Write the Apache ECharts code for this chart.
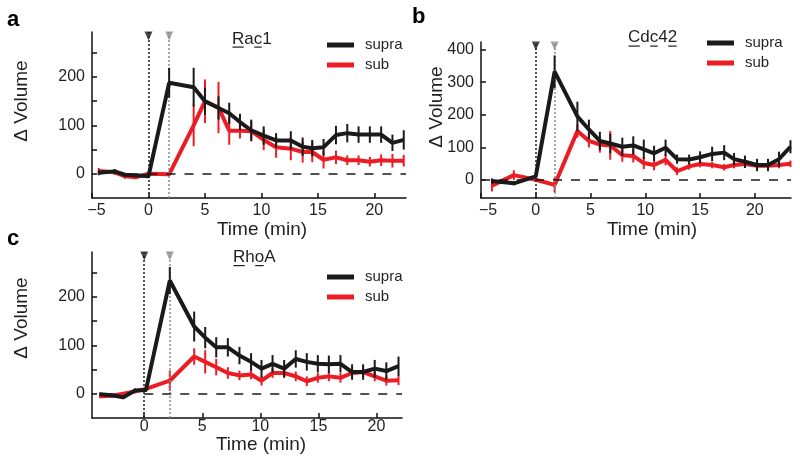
<!DOCTYPE html>
<html><head><meta charset="utf-8">
<script src="https://cdn.jsdelivr.net/npm/echarts@6/dist/echarts.min.js"></script>
<style>html,body{margin:0;padding:0;background:#fff}#c{width:800px;height:465px}</style>
</head><body><div id="c"></div>
<script>
// ---------- Panel a : Rac1 ----------
const timeA     = [-4.4, -3.0, -2.1, -1.1, 0, 1.83, 4.0, 5.0, 6.2, 7.15, 8.1, 9.1, 10.2, 11.3, 12.6, 13.65, 14.5, 15.5, 16.6, 17.6, 18.6, 19.6, 20.6, 21.6, 22.6];
const supraA    = [2, 5, -2, -3, -5, 188, 179, 150, 136, 125, 107, 90, 79, 69, 69, 56, 53, 55, 80, 84, 81, 81, 81, 64, 70];
const supraErrA = [5, 5, 4, 4, 4, 31, 40, 28, 24, 22, 17, 22, 19, 15, 19, 19, 17, 17, 19, 19, 17, 17, 17, 17, 20];
const subA      = [6, 3, -5, -7, 0, -1, 100, 150, 137, 89, 89, 88, 70, 55, 52, 45, 45, 29, 34, 28, 28, 25, 28, 27, 27];
const subErrA   = [6, 5, 5, 4, 3, 3, 43, 45, 53, 29, 16, 21, 21, 22, 24, 22, 21, 18, 14, 10, 10, 10, 12, 14, 12];
// ---------- Panel b : Cdc42 ----------
const timeB     = [-4.0, -2.0, 0, 1.72, 3.8, 4.85, 5.85, 6.8, 7.9, 8.9, 9.86, 10.8, 11.85, 12.9, 14.0, 15.0, 16.1, 17.2, 18.1, 19.1, 20.2, 21.2, 22.2, 23.25];
const supraB    = [-3, -10, 11, 332, 195, 155, 120, 112, 102, 106, 94, 82, 99, 64, 63, 70, 80, 84, 64, 56, 46, 46, 64, 102];
const supraErrB = [8, 6, 6, 50, 45, 30, 28, 30, 28, 28, 30, 23, 25, 14, 15, 18, 22, 23, 19, 19, 19, 19, 23, 20];
const subB      = [-17, 15, 1, -15, 150, 120, 109, 106, 76, 74, 52, 46, 62, 27, 42, 49, 46, 39, 46, 49, 44, 44, 46, 50];
const subErrB   = [18, 15, 5, 23, 20, 20, 25, 44, 20, 20, 18, 16, 17, 12, 10, 10, 10, 10, 10, 10, 10, 10, 10, 10];
// ---------- Panel c : RhoA ----------
const timeC     = [-3.8, -2.8, -1.8, -0.8, 0.15, 2.2, 4.3, 5.25, 6.2, 7.2, 8.2, 9.2, 10.1, 11.05, 12.05, 13.05, 14.0, 14.95, 15.9, 16.9, 17.9, 18.85, 19.85, 20.85, 21.9];
const supraC    = [-1, -3, -7, 7, 8, 234, 139, 116, 96, 96, 79, 66, 52, 62, 52, 72, 66, 62, 61, 62, 45, 45, 52, 47, 57];
const supraErrC = [4, 4, 4, 4, 4, 28, 31, 22, 21, 19, 18, 18, 18, 18, 18, 18, 18, 18, 18, 18, 16, 16, 18, 18, 20];
const subC      = [-5, -4, 0, 5, 10, 27, 77, 66, 55, 43, 38, 40, 27, 43, 43, 36, 26, 33, 36, 33, 43, 45, 36, 27, 28];
const subErrC   = [4, 4, 4, 4, 4, 21, 17, 24, 17, 12, 10, 10, 10, 10, 10, 10, 10, 10, 10, 10, 10, 10, 10, 10, 10];
// ---------- ticks / labels ----------
const xTicksAB  = [-5, 0, 5, 10, 15, 20];
const xTicksC   = [0, 5, 10, 15, 20];
const yTicksAC  = [0, 50, 100, 150, 200, 250];
const yLabelsAC = [0, 100, 200];
const yTicksB   = [0, 100, 200, 300, 400];
const titles    = ['Rac1', 'Cdc42', 'RhoA'];
const underlined = [[0, 2], [0, 2, 4], [0, 2]];
const seriesNames = ['supra', 'sub'];
const panelLetters = ['a', 'b', 'c'];

const FONT = '"Liberation Sans", Arial, Helvetica, sans-serif';
const RED = '#ec1c24', BLACK = '#1a1a1a', GRAY = '#8c8c8c', TXT = '#231f20';

const panels = [
  {t: timeA, sup: supraA, supE: supraErrA, sub: subA, subE: subErrA,
   grid: {left: 92, top: 32, width: 314, height: 166}, x: [-5, 22.8], y: [-50, 293],
   xTicks: xTicksAB, yTicks: yTicksAC, yLabels: yLabelsAC, stim: 1.83, zeroFrom: 0,
   legend: {left: 327, top: 37}, negPad: 9, xMargin: 5},
  {t: timeB, sup: supraB, supE: supraErrB, sub: subB, subE: subErrB,
   grid: {left: 481, top: 42, width: 310, height: 156}, x: [-5, 23.3], y: [-55, 423],
   xTicks: xTicksAB, yTicks: yTicksB, yLabels: yTicksB, stim: 1.72, zeroFrom: -5,
   legend: {left: 707, top: 35}, negPad: 14, xMargin: 5},
  {t: timeC, sup: supraC, supE: supraErrC, sub: subC, subE: subErrC,
   grid: {left: 92, top: 252, width: 310, height: 166}, x: [-4.5, 22.2], y: [-50, 293],
   xTicks: xTicksC, yTicks: yTicksAC, yLabels: yLabelsAC, stim: 2.2, zeroFrom: 0,
   legend: {left: 327, top: 269}, negPad: 9, xMargin: 1}
];

function zip(t, v, e) { return t.map((x, i) => e ? [x, v[i], e[i]] : [x, v[i]]); }
function errRender(color) {
  return function (params, api) {
    const x = api.value(0), y = api.value(1), e = api.value(2);
    const p1 = api.coord([x, y - e]), p2 = api.coord([x, y + e]);
    return {type: 'line', shape: {x1: p1[0], y1: p1[1], x2: p2[0], y2: p2[1]},
            style: {stroke: color, lineWidth: 2}};
  };
}

const grid = [], xAxis = [], yAxis = [], series = [], legend = [];
panels.forEach((p, i) => {
  grid.push(Object.assign({outerBoundsMode: 'none', containLabel: false}, p.grid));
  const axisLine = {show: true, onZero: false, lineStyle: {color: '#111', width: 1.5}};
  xAxis.push({type: 'value', gridIndex: i, min: p.x[0], max: p.x[1], axisLine,
    axisTick: {show: true, inside: true, length: 5, customValues: p.xTicks, lineStyle: {color: '#111', width: 1.5}},
    axisLabel: {customValues: p.xTicks, fontSize: 16, color: TXT, fontFamily: FONT, margin: p.xMargin,
      formatter: v => v < 0 ? '{n|\u2212' + Math.abs(v) + '}' : String(v),
      rich: {n: {fontSize: 16, color: TXT, fontFamily: FONT, padding: [0, 0, 0, p.negPad]}}},
    splitLine: {show: false}});
  yAxis.push({type: 'value', gridIndex: i, min: p.y[0], max: p.y[1], axisLine,
    axisTick: {show: true, inside: true, length: 5, customValues: p.yTicks, lineStyle: {color: '#111', width: 1.5}},
    axisLabel: {customValues: p.yLabels, fontSize: 16, color: TXT, fontFamily: FONT, margin: 7},
    splitLine: {show: false}});
  const ymax = p.y[1];
  series.push({type: 'scatter', name: 'guides', xAxisIndex: i, yAxisIndex: i, z: 1, clip: false,
    symbol: 'triangle', symbolRotate: 180, symbolSize: [8, 9], symbolOffset: [0, 4],
    data: [{value: [0, ymax], itemStyle: {color: BLACK}}, {value: [p.stim, ymax], itemStyle: {color: GRAY}}],
    silent: true, animation: false,
    markLine: {silent: true, symbol: 'none', animation: false, label: {show: false},
      data: [
        {xAxis: 0, lineStyle: {color: BLACK, type: [2, 2], width: 1.5}},
        {xAxis: p.stim, lineStyle: {color: GRAY, type: [2, 2], width: 1.5}},
        [{coord: [p.zeroFrom, 0], lineStyle: {color: BLACK, type: [9, 9], width: 1.5}}, {coord: [p.x[1], 0]}]
      ]}});
  series.push({type: 'line', name: 'sub', xAxisIndex: i, yAxisIndex: i, z: 3, data: zip(p.t, p.sub),
    symbol: 'none', showSymbol: false, animation: false,
    lineStyle: {color: RED, width: 4}, itemStyle: {color: RED}});
  series.push({type: 'custom', name: 'subErr', xAxisIndex: i, yAxisIndex: i, z: 4, data: zip(p.t, p.sub, p.subE),
    encode: {x: 0, y: 1}, renderItem: errRender(RED), animation: false, itemStyle: {color: RED}});
  series.push({type: 'line', name: 'supra', xAxisIndex: i, yAxisIndex: i, z: 5, data: zip(p.t, p.sup),
    symbol: 'none', showSymbol: false, animation: false,
    lineStyle: {color: BLACK, width: 4}, itemStyle: {color: BLACK}});
  series.push({type: 'custom', name: 'supraErr', xAxisIndex: i, yAxisIndex: i, z: 6, data: zip(p.t, p.sup, p.supE),
    encode: {x: 0, y: 1}, renderItem: errRender(BLACK), animation: false, itemStyle: {color: BLACK}});
  legend.push({left: p.legend.left, top: p.legend.top, orient: 'vertical', padding: 0,
    itemWidth: 27, itemHeight: 5, itemGap: 4, icon: 'rect', selectedMode: false,
    data: seriesNames.map(n => ({name: n, icon: 'rect', itemStyle: {color: n === 'supra' ? BLACK : RED}})),
    textStyle: {fontSize: 15, color: TXT, fontFamily: FONT, lineHeight: 16, padding: [0, 0, 0, 6]}});
});

// titles with underlined letters
const cv = document.createElement('canvas').getContext('2d');
const TFONT = '17px "Liberation Sans"';
cv.font = TFONT;
const titlePos = [{x: 232, y: 39, ul: 46.5}, {x: 628, y: 37.5, ul: 45.5}, {x: 233, y: 257.5, ul: 265}];
const graphic = [];
titles.forEach((t, i) => {
  const tp = titlePos[i];
  graphic.push({type: 'text', x: tp.x, y: tp.y, silent: true,
    style: {text: t, font: TFONT, fill: TXT, align: 'left', verticalAlign: 'middle'}});
  underlined[i].forEach(ci => {
    const x0 = cv.measureText(t.slice(0, ci)).width, x1 = cv.measureText(t.slice(0, ci + 1)).width;
    graphic.push({type: 'rect', silent: true, shape: {x: tp.x + x0 + 0.5, y: tp.ul, width: x1 - x0 - 1, height: 1.2},
      style: {fill: TXT}});
  });
});
// panel letters
[[7, 20], [412, 17], [7, 239]].forEach((pos, i) => {
  graphic.push({type: 'text', x: pos[0], y: pos[1], silent: true,
    style: {text: panelLetters[i], font: 'bold 22px ' + FONT, fill: '#000', align: 'left', verticalAlign: 'middle'}});
});
// axis names
[[22, 101], [437, 107], [22, 318]].forEach(pos => {
  graphic.push({type: 'text', x: pos[0], y: pos[1], rotation: Math.PI / 2, silent: true,
    style: {text: '\u0394 Volume', font: '19px ' + FONT, fill: TXT, align: 'center', verticalAlign: 'middle'}});
});
[[262, 230], [652, 230], [261, 445]].forEach(pos => {
  graphic.push({type: 'text', x: pos[0], y: pos[1], silent: true,
    style: {text: 'Time (min)', font: '19px ' + FONT, fill: TXT, align: 'center', verticalAlign: 'middle'}});
});

const chart = echarts.init(document.getElementById('c'), null, {renderer: 'canvas'});
chart.setOption({
  animation: false, backgroundColor: '#fff',
  textStyle: {fontFamily: FONT},
  grid, xAxis, yAxis, series, legend, graphic
});
</script></body></html>
